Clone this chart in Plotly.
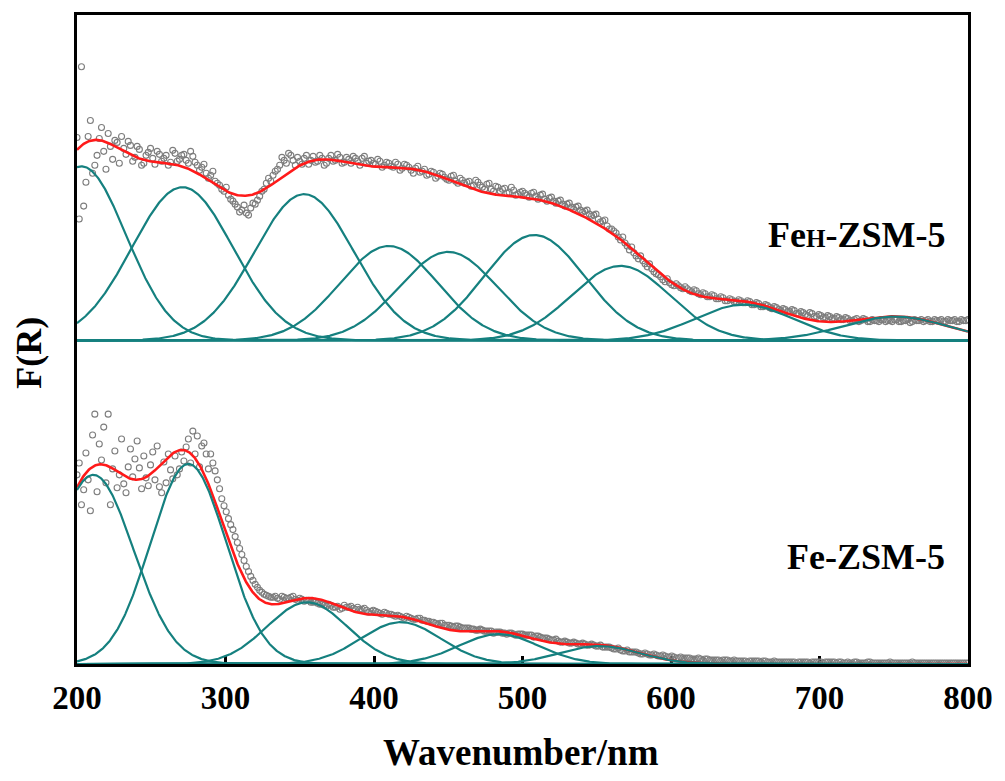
import numpy as np
import plotly.graph_objects as go

# Sampled wavelengths (nm) of the diffuse-reflectance spectra:
# a main pass and an interleaved pass shifted by 1.5 nm
wavelength = list(range(200, 801, 3))
wavelength_b = [w + 1.5 for w in range(200, 800, 3)]

# FeH-ZSM-5 measured F(R) (a.u., above its own baseline)
feh_data = [
    204, 275, 159, 221, 176, 203, 190, 208, 182, 199,
    205, 187, 196, 184, 192, 178, 189, 183, 190, 180,
    186, 179, 188, 182, 187, 178, 185, 176, 174, 168,
    166, 160, 156, 150, 146, 140, 134, 131, 128, 133,
    137, 145, 152, 163, 166, 172, 184, 178, 186, 176,
    180, 183, 177, 185, 180, 183, 178, 186, 181, 184,
    179, 182, 185, 180, 183, 178, 181, 177, 180, 176,
    178, 174, 177, 173, 176, 171, 173, 169, 172, 167,
    169, 165, 167, 162, 165, 160, 163, 158, 160, 156,
    159, 154, 157, 152, 155, 150, 153, 149, 151, 147,
    150, 146, 148, 145, 146, 142, 143, 140, 140, 137,
    137, 134, 134, 131, 130, 127, 126, 122, 120, 115,
    112, 108, 101, 98, 91, 88, 82, 80, 74, 72,
    67, 64, 59, 58, 55, 55, 52, 52, 49, 50,
    46, 47, 44, 45, 42, 43, 40, 41, 39, 40,
    38, 39, 36, 37, 34, 35, 32, 33, 30, 31,
    29, 30, 27, 28, 25, 27, 24, 25, 23, 24,
    22, 23, 21, 22, 20, 22, 20, 21, 19, 20,
    19, 21, 20, 19, 21, 19, 20, 18, 21, 20,
    19, 21, 19, 20, 21, 19, 20, 21, 19, 20,
    21,
]
feh_data_b = [
    122, 135, 205, 168, 186, 214, 172, 195, 201, 178,
    193, 200, 180, 195, 176, 186, 193, 177, 187, 183,
    176, 191, 180, 186, 181, 190, 179, 171, 177, 163,
    170, 158, 152, 154, 142, 137, 129, 136, 126, 138,
    141, 150, 158, 160, 170, 176, 181, 188, 181, 184,
    177, 186, 181, 179, 186, 176, 183, 180, 187, 178,
    184, 178, 183, 176, 185, 180, 178, 182, 174, 179,
    175, 179, 171, 177, 174, 168, 175, 170, 166, 170,
    163, 168, 164, 161, 166, 158, 161, 159, 155, 161,
    156, 152, 158, 150, 154, 152, 148, 154, 146, 149,
    148, 144, 149, 142, 147, 140, 144, 138, 141, 135,
    138, 132, 135, 129, 131, 125, 127, 119, 121, 112,
    110, 104, 104, 95, 94, 85, 85, 77, 77, 69,
    66, 61, 62, 56, 57, 53, 54, 50, 51, 47,
    48, 44, 46, 42, 44, 40, 42, 39, 41, 38,
    40, 36, 38, 34, 36, 33, 34, 31, 32, 29,
    31, 27, 29, 26, 28, 24, 26, 23, 25, 22,
    24, 21, 23, 20, 21, 19, 22, 19, 21, 20,
    21, 19, 20, 21, 19, 20, 21, 19, 20, 21,
    20, 19, 21, 20, 19, 21, 20, 19, 21, 20,
]

# Fe-ZSM-5 measured F(R) (a.u.)
fe_data = [
    190, 160, 212, 154, 251, 221, 238, 251, 196, 177,
    226, 172, 216, 206, 197, 209, 179, 213, 219, 172,
    182, 195, 209, 196, 204, 226, 234, 229, 219, 211,
    211, 194, 176, 159, 146, 135, 122, 110, 98, 88,
    80, 74, 70, 68, 67, 66, 68, 66, 67, 65,
    66, 63, 64, 62, 61, 60, 58, 59, 57, 55,
    59, 57, 56, 57, 55, 54, 53, 53, 51, 52,
    50, 49, 49, 47, 48, 46, 45, 46, 44, 43,
    42, 40, 41, 39, 38, 38, 37, 36, 36, 35,
    34, 34, 33, 33, 32, 32, 31, 31, 30, 30,
    30, 29, 29, 28, 27, 26, 25, 24, 23, 22,
    22, 21, 21, 20, 20, 19, 19, 18, 17, 17,
    16, 15, 14, 13, 12, 12, 11, 10, 10, 9,
    9, 8, 8, 7, 7, 6, 6, 6, 5, 5,
    5, 5, 4, 4, 4, 4, 4, 3, 3, 3,
    3, 3, 3, 3, 3, 2, 2, 2, 2, 2,
    2, 2, 2, 2, 2, 2, 2, 2, 2, 2,
    2, 2, 1, 2, 1, 2, 1, 1, 2, 1,
    1, 1, 1, 1, 1, 1, 1, 1, 1, 1,
    1, 1, 1, 1, 1, 1, 1, 1, 1, 1,
    1,
]
fe_data_b = [
    202, 175, 185, 230, 173, 205, 182, 160, 214, 190,
    181, 198, 188, 224, 176, 187, 200, 185, 178, 203,
    211, 186, 190, 213, 218, 202, 211, 198, 222, 196,
    202, 185, 166, 153, 140, 128, 116, 104, 93, 84,
    77, 72, 69, 67, 68, 65, 67, 66, 68, 64,
    65, 64, 62, 63, 60, 59, 60, 57, 58, 56,
    57, 58, 55, 55, 56, 52, 54, 52, 50, 51,
    50, 48, 48, 46, 47, 45, 46, 44, 43, 42,
    41, 41, 39, 39, 37, 38, 36, 36, 35, 34,
    35, 33, 33, 31, 32, 31, 30, 31, 29, 30,
    29, 29, 27, 28, 26, 26, 24, 25, 22, 23,
    21, 22, 20, 21, 19, 20, 18, 19, 17, 17,
    15, 16, 13, 14, 12, 12, 10, 11, 9, 10,
    8, 9, 7, 8, 6, 7, 6, 6, 5, 6,
    4, 5, 4, 4, 3, 4, 3, 4, 3, 3,
    2, 3, 3, 2, 3, 2, 3, 2, 2, 2,
    2, 1, 2, 2, 1, 2, 2, 1, 2, 2,
    1, 2, 1, 1, 2, 1, 1, 2, 1, 1,
    1, 1, 2, 1, 1, 1, 1, 2, 1, 1,
    1, 1, 1, 1, 1, 1, 1, 1, 1, 1,
]

# Gaussian deconvolution bands: centre (nm), height (a.u.), sigma (nm)
feh_centers = [203, 271, 353, 410, 450, 508, 566, 649, 751]
feh_heights = [175, 154, 147, 95, 89, 106, 75, 36, 24]
feh_widths = [30, 34, 33.5, 33, 33, 34, 33, 33, 35]

fe_centers = [211, 275, 355, 418, 484, 552]
fe_heights = [190, 201, 62, 42, 30, 18]
fe_widths = [27, 25.5, 27, 27, 27, 27]

# vertical stacking offset of the FeH-ZSM-5 spectrum
FEH_OFFSET = 325

assert len(wavelength) == len(feh_data) == len(fe_data)
assert len(wavelength_b) == len(feh_data_b) == len(fe_data_b)

GRAY = "#7d7d7d"
RED = "#ff1a1a"
TEAL = "#15807f"
FONT = "Liberation Serif"

grid = np.linspace(200, 800, 1201)


def gauss(x, c, h, w):
    return h * np.exp(-((x - c) ** 2) / (2.0 * w * w))


fig = go.Figure()


def add_sample(data, data_b, centers, heights, widths, offset):
    xs = wavelength + wavelength_b
    ys = [v + offset for v in data] + [v + offset for v in data_b]
    fig.add_trace(go.Scatter(
        x=xs, y=ys, mode="markers",
        marker=dict(symbol="circle-open", size=6, color=GRAY,
                    line=dict(width=1.1, color=GRAY)),
        hoverinfo="skip"))
    comps = [gauss(grid, c, h, w) for c, h, w in zip(centers, heights, widths)]
    total = np.sum(comps, axis=0)
    fig.add_trace(go.Scatter(
        x=grid, y=total + offset, mode="lines",
        line=dict(color=RED, width=2.6), hoverinfo="skip"))
    for comp in comps:
        fig.add_trace(go.Scatter(
            x=grid, y=comp + offset, mode="lines",
            line=dict(color=TEAL, width=2.2), hoverinfo="skip"))


add_sample(feh_data, feh_data_b, feh_centers, feh_heights, feh_widths, FEH_OFFSET)
add_sample(fe_data, fe_data_b, fe_centers, fe_heights, fe_widths, 0)

fig.update_layout(
    width=1005, height=781,
    margin=dict(l=77, r=32, t=12, b=117),
    paper_bgcolor="white", plot_bgcolor="white",
    showlegend=False,
    xaxis=dict(
        range=[200, 800], tickvals=[200, 300, 400, 500, 600, 700, 800],
        ticks="inside", ticklen=8, tickwidth=2.5, tickcolor="black",
        showline=True, linecolor="black", linewidth=2.5, mirror=True,
        showgrid=False, zeroline=False, layer="below traces",
        ticklabelstandoff=3,
        tickfont=dict(family=FONT, size=33, color="black", weight="bold"),
    ),
    yaxis=dict(
        range=[0, 652], showticklabels=False, ticks="",
        showline=True, linecolor="black", linewidth=2.5, mirror=True,
        showgrid=False, zeroline=False, layer="below traces",
    ),
    annotations=[
        dict(text="Wavenumber/nm", xref="paper", yref="paper",
             x=0.498, y=-0.1365, xanchor="center", yanchor="middle",
             showarrow=False,
             font=dict(family=FONT, size=37, color="black", weight="bold")),
        dict(text="F(R)", xref="paper", yref="paper",
             x=-0.0536, y=0.48, xanchor="center", yanchor="middle",
             textangle=-90, showarrow=False,
             font=dict(family=FONT, size=36, color="black", weight="bold")),
        dict(text="Fe<span style='font-size:25px'>H</span>-ZSM-5",
             xref="paper", yref="paper", x=0.9766, y=0.661,
             xanchor="right", yanchor="middle", showarrow=False,
             font=dict(family=FONT, size=36, color="black", weight="bold")),
        dict(text="Fe-ZSM-5", xref="paper", yref="paper",
             x=0.9766, y=0.1656, xanchor="right", yanchor="middle",
             showarrow=False,
             font=dict(family=FONT, size=36, color="black", weight="bold")),
    ],
)

fig.write_html("out.html")
